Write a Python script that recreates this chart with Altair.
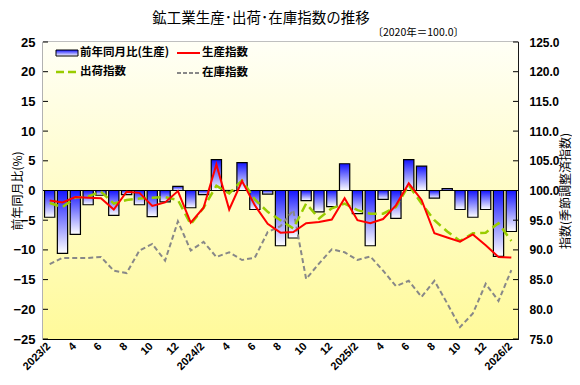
import altair as alt
import pandas as pd

# ---------------- data ----------------
months = []
for y in (2023, 2024, 2025, 2026):
    for m in range(1, 13):
        if (y == 2023 and m < 2) or (y == 2026 and m > 2):
            continue
        months.append(f"{y}/{m}")

yoy = [-4.5, -10.6, -7.4, -2.4, -0.8, -4.2, -0.7, -2.4, -4.4, -1.9,
       0.7, -2.9, -0.7, 5.2, -0.1, 4.7, -3.2, -0.6, -9.3, -8.0,
       -1.7, -3.6, -2.7, 4.5, -3.9, -9.3, -1.5, -4.7, 5.2, 4.1,
       -1.3, 0.3, -3.2, -4.5, -3.2, -11.1, -6.9]
prod = [98.3, 98.0, 98.9, 98.8, 98.7, 96.8, 99.8, 99.6, 97.4, 98.0,
        99.9, 94.6, 97.1, 104.4, 96.8, 101.6, 97.5, 94.4, 92.9, 93.0,
        94.5, 94.7, 95.1, 98.7, 95.0, 94.5, 95.2, 97.5, 101.2, 98.4,
        92.8, 92.1, 91.4, 92.6, 90.8, 88.8, 88.7]
ship = [97.9, 97.2, 98.8, 99.0, 99.8, 97.8, 98.4, 98.65, 98.8, 98.9,
        98.4, 94.3, 97.1, 100.8, 99.5, 101.7, 98.5, 96.4, 95.0, 93.6,
        97.8, 95.3, 97.0, 97.8, 96.7, 96.1, 96.1, 97.2, 100.9, 97.8,
        95.0, 93.1, 91.5, 92.8, 92.9, 94.5, 91.5]
inv = [87.6, 88.65, 88.65, 88.65, 88.8, 86.5, 86.1, 89.9, 91.0, 88.2,
       94.8, 89.9, 91.35, 88.8, 89.6, 88.3, 88.7, 93.0, 94.0, 96.7,
       85.1, 87.7, 90.1, 89.6, 88.3, 88.9, 86.5, 83.9, 84.8, 82.1,
       84.8, 81.0, 77.0, 79.3, 84.3, 81.4, 86.6]

left_ticks = [-25, -20, -15, -10, -5, 0, 5, 10, 15, 20, 25]
right_ticks = [75, 80, 85, 90, 95, 100, 105, 110, 115, 120, 125]

TITLE = "鉱工業生産･出荷･在庫指数の推移"
SUBTITLE = "〔2020年＝100.0〕"
LEFT_TITLE = "前年同月比(%)"
RIGHT_TITLE = "指数(季節調整済指数)"
LEG = ["前年同月比(生産)", "生産指数", "出荷指数", "在庫指数"]

# ---------------- layout ----------------
W, H = 475, 297
JP = "Noto Sans CJK JP"
NUM = "Liberation Sans"

bars_df = pd.DataFrame({"month": months, "yoy": yoy})
prod_df = pd.DataFrame({"month": months, "value": prod})
ship_df = pd.DataFrame({"month": months, "value": ship})
inv_df = pd.DataFrame({"month": months, "value": inv})
one = pd.DataFrame({"a": [0]})

even_months = [m for m in months if int(m.split("/")[1]) % 2 == 0]
xlab_df = pd.DataFrame({
    "month": even_months,
    "lab": [m if m.endswith("/2") else m.split("/")[1] for m in even_months],
})

xaxis = alt.Axis(labels=False, ticks=False, domain=False, title=None, grid=False)
xscale = alt.Scale(domain=months, paddingInner=0.2, paddingOuter=0.12)
xenc = alt.X("month:N", sort=months, scale=xscale, axis=xaxis)

left_axis = alt.Axis(
    values=left_ticks, title=LEFT_TITLE, ticks=False, domain=False, grid=False,
    labelPadding=8, labelFont=NUM, labelFontSize=13, labelFontWeight="bold",
    labelColor="#000", titleFont=JP, titleFontSize=12, titleFontWeight="normal",
    titleColor="#000", titleAngle=270, titleX=-26, titleY=H / 2,
    titleAlign="center", titleBaseline="middle",
)
right_axis = alt.Axis(
    orient="right", values=right_ticks, format=".1f", title=RIGHT_TITLE,
    ticks=False, domain=False, grid=False, labelPadding=11, labelFont=NUM,
    labelFontSize=12, labelFontWeight="bold", labelColor="#000",
    titleFont=JP, titleFontSize=12, titleFontWeight="normal", titleColor="#000",
    titleAngle=270, titleX=47, titleY=H / 2, titleAlign="center",
    titleBaseline="middle",
)

yl = alt.Scale(domain=[-25, 25], nice=False, zero=False)
yr = alt.Scale(domain=[75, 125], nice=False, zero=False)

bg_grad = alt.Gradient(
    gradient="linear", x1=0, x2=0, y1=0, y2=1,
    stops=[alt.GradientStop(offset=0, color="#fffff6"),
           alt.GradientStop(offset=1, color="#fffa9a")],
)
bar_grad = alt.Gradient(
    gradient="linear", x1=0, x2=0, y1=0, y2=1,
    stops=[alt.GradientStop(offset=0, color="#1414ff"),
           alt.GradientStop(offset=1, color="#ffffff")],
)

background = alt.Chart(one).mark_rect(color=bg_grad).encode(
    x=alt.value(0), x2=alt.value(W), y=alt.value(0), y2=alt.value(H)
)

bars = alt.Chart(bars_df).mark_bar(
    color=bar_grad, stroke="#000", strokeWidth=1.2
).encode(
    x=xenc,
    y=alt.Y("yoy:Q", scale=yl, axis=left_axis),
    y2=alt.datum(0),
)

zero = alt.Chart(pd.DataFrame({"z": [0]})).mark_rule(color="#000", strokeWidth=1.2).encode(
    y=alt.Y("z:Q", scale=yl, axis=left_axis), x=alt.value(0), x2=alt.value(W)
)

lticks = alt.Chart(pd.DataFrame({"t": left_ticks})).mark_rule(color="#000").encode(
    y=alt.Y("t:Q", scale=yl, axis=left_axis), x=alt.value(0), x2=alt.value(5)
)

xlabels = alt.Chart(xlab_df).mark_text(
    font=NUM, fontSize=11, fontWeight="bold", color="#000",
    angle=315, align="right", baseline="middle", dx=-1,
).encode(x=xenc, y=alt.value(H + 5), text="lab:N")

title = alt.Chart(one).mark_text(
    text=TITLE, font=JP, fontSize=14.5, align="center", baseline="middle", color="#000"
).encode(x=alt.value(218), y=alt.value(-23))

subtitle = alt.Chart(one).mark_text(
    text=SUBTITLE, font=JP, fontSize=10.5, align="right", baseline="middle", color="#000"
).encode(x=alt.value(421), y=alt.value(-9))

# legend
r1, r2 = 11, 30
leg_bar = alt.Chart(one).mark_rect(color=bar_grad, stroke="#000", strokeWidth=1).encode(
    x=alt.value(13), x2=alt.value(35), y=alt.value(r1 - 3), y2=alt.value(r1 + 3)
)
leg_red = alt.Chart(one).mark_rule(color="#ff0000", strokeWidth=2).encode(
    x=alt.value(134), x2=alt.value(157), y=alt.value(r1)
)
leg_green = alt.Chart(one).mark_rule(color="#99cc00", strokeWidth=2.5, strokeDash=[8, 4]).encode(
    x=alt.value(13), x2=alt.value(35), y=alt.value(r2)
)
leg_grey = alt.Chart(one).mark_rule(color="#888888", strokeWidth=2, strokeDash=[4, 2]).encode(
    x=alt.value(134), x2=alt.value(157), y=alt.value(r2 + 1)
)


def leg_text(txt, x, y):
    return alt.Chart(one).mark_text(
        text=txt, font=JP, fontSize=11.5, fontWeight="bold", align="left",
        baseline="middle", color="#000"
    ).encode(x=alt.value(x), y=alt.value(y))


legend = [leg_bar, leg_red, leg_green, leg_grey,
          leg_text(LEG[0], 37, r1), leg_text(LEG[1], 159, r1),
          leg_text(LEG[2], 37, r2), leg_text(LEG[3], 159, r2 + 1)]

left_group = alt.layer(background, bars, zero, lticks, xlabels, title, subtitle, *legend)

inv_line = alt.Chart(inv_df).mark_line(color="#888888", strokeWidth=2, strokeDash=[5, 3]).encode(
    x=xenc, y=alt.Y("value:Q", scale=yr, axis=right_axis)
)
ship_line = alt.Chart(ship_df).mark_line(color="#99cc00", strokeWidth=2.5, strokeDash=[9, 5]).encode(
    x=xenc, y=alt.Y("value:Q", scale=yr, axis=right_axis)
)
prod_line = alt.Chart(prod_df).mark_line(color="#ff0000", strokeWidth=2).encode(
    x=xenc, y=alt.Y("value:Q", scale=yr, axis=right_axis)
)
rticks = alt.Chart(pd.DataFrame({"t": right_ticks})).mark_rule(color="#000").encode(
    y=alt.Y("t:Q", scale=yr, axis=right_axis), x=alt.value(W - 5), x2=alt.value(W)
)

right_group = alt.layer(inv_line, ship_line, prod_line, rticks)

chart = alt.layer(left_group, right_group).resolve_scale(y="independent").properties(
    width=W, height=H,
    autosize=alt.AutoSizeParams(type="none"),
    padding={"left": 35, "top": 34, "right": 54, "bottom": 38},
    background="#ffffff",
).configure_view(stroke="#000", strokeWidth=1.2)

chart.save("out.html", embed_options={"renderer": "svg", "actions": False})
